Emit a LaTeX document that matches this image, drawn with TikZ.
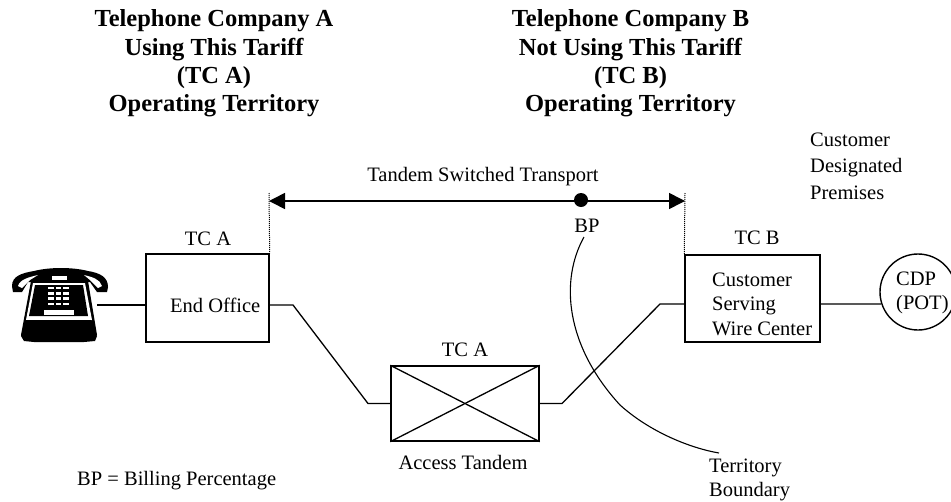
\documentclass[tikz,border=0pt]{standalone}
\usepackage{fontspec}
\setmainfont{Liberation Serif}
\usetikzlibrary{arrows.meta}
\tikzset{
  lbl/.style={inner sep=0pt, font=\fontsize{20.5}{24.5}\selectfont},
  hdr/.style={inner sep=0pt, align=center, font=\fontsize{24.5}{28.3}\selectfont\bfseries},
  boxn/.style={draw, line width=1.4pt, inner sep=0pt},
  wire/.style={line width=1.3pt},
}
\begin{document}
\begin{tikzpicture}[x=1pt,y=-1pt]
\useasboundingbox (0,0) rectangle (951,501);
% headings
\node[hdr] (hdrA) at (214,63.5) {Telephone Company A\\Using This Tariff\\(TC A)\\Operating Territory};
\node[hdr] (hdrB) at (630.5,63.5) {Telephone Company B\\Not Using This Tariff\\(TC B)\\Operating Territory};
\node[lbl, align=left, anchor=west, font=\fontsize{20.5}{26.5}\selectfont] (cdpnote) at (810,166) {Customer\\Designated\\Premises};
% boxes
\node[boxn, minimum width=123pt, minimum height=88pt] (endoff) at (207.5,298) {};
\node[boxn, minimum width=148pt, minimum height=75pt] (tandem) at (465,403.5) {};
\node[boxn, minimum width=135pt, minimum height=87pt] (cswc) at (752.5,298.5) {};
\node[boxn, circle, minimum size=76pt] (cdp) at (918,292) {};
\draw[wire] (tandem.north west) -- (tandem.south east);
\draw[wire] (tandem.south west) -- (tandem.north east);
% box labels
\node[lbl, anchor=west] (eotext) at (170,305) {End Office};
\node[lbl, align=left, anchor=west] (cswctext) at (712,304) {Customer\\Serving\\Wire Center};
\node[lbl, align=left, anchor=west] (cdptext) at (896,293) {CDP\\(POT)};
\node[lbl] (tcA) at (208,239) {TC A};
\node[lbl] (tcAt) at (465,350) {TC A};
\node[lbl] (tcB) at (757,238) {TC B};
\node[lbl] (tandtext) at (463,462) {Access Tandem};
\node[lbl] (tst) at (483,177) {Tandem Switched Transport};
\node[lbl] (bplabel) at (587,226) {BP};
\node[lbl, anchor=west] (bpnote) at (77,481) {BP = Billing Percentage};
\node[lbl, align=left, anchor=west] (terr) at (709,480) {Territory\\Boundary};
% telephone
\fill (12,286) .. controls (12,276) and (22,273) .. (34,271) .. controls (50,267) and (72,267) .. (88,271)
  .. controls (100,273) and (108,277) .. (108,287) -- (107,292) -- (97,292) -- (90,282) -- (28,282) -- (22,292) -- (13,292) -- cycle;
\fill[white] (18,286) .. controls (20,279) and (30,277) .. (38,275) -- (30,280) -- (22,288) -- cycle;
\fill[white] (102,286) .. controls (100,279) and (92,277) .. (84,275) -- (90,280) -- (98,288) -- cycle;
\fill[white] (52,276) rectangle (67,280);
\fill (31,281) -- (88,281) -- (97,335) -- (21,335) -- cycle;
\fill[white] (33,283) -- (85,283) -- (92,320) -- (26,320) -- cycle;
\fill (35,285) -- (83,285) -- (88,316) -- (29,316) -- cycle;
\fill (26,320) -- (91,320) -- (97,336) -- (95,341) -- (84,342) -- (34,342) -- (24,341) -- (21,336) -- cycle;
\fill[white] (44,310) rectangle (74,315);
\foreach \kx in {48,55.5,63}
  \foreach \ky in {286.5,292,297,302.5}
    \fill[white] (\kx,\ky) rectangle ++(5.5,2.5);
% wires
\coordinate (phonejack) at (97,305);
\coordinate (jogA) at (293,305);
\coordinate (jogB) at (368,403.5);
\coordinate (jogC) at (562,403.5);
\coordinate (jogD) at (660,304);
\draw[wire] (phonejack) -- (endoff.west |- phonejack);
\draw[wire] (endoff.east |- jogA) -- (jogA) -- (jogB) -- (tandem.west);
\draw[wire] (tandem.east) -- (jogC) -- (jogD) -- (cswc.west |- jogD);
\draw[wire] (cswc.east |- jogD) -- (cdp.198.4);
% transport span
\coordinate (tsA) at (269,201);
\coordinate (tsB) at (685,201);
\coordinate (dotA) at (269,193);
\coordinate (dotB) at (685,193);
\draw[line width=1pt, densely dotted] (dotA) -- (endoff.north east);
\draw[line width=1pt, densely dotted] (dotB) -- (cswc.north west);
\draw[line width=1.6pt, {Triangle[length=16pt,width=16pt]}-{Triangle[length=16pt,width=16pt]}] (tsA) -- (tsB);
\node[circle, fill, inner sep=0pt, minimum size=14pt] (bpdot) at (581,200) {};
% territory boundary
\coordinate (bdA) at (584,237);
\coordinate (bdM) at (620,405);
\coordinate (bdB) at (719,453);
\draw[line width=1.1pt] (bdA) .. controls (560,280) and (565,345) .. (bdM) .. controls (650,432) and (690,448) .. (bdB);
\end{tikzpicture}
\end{document}
